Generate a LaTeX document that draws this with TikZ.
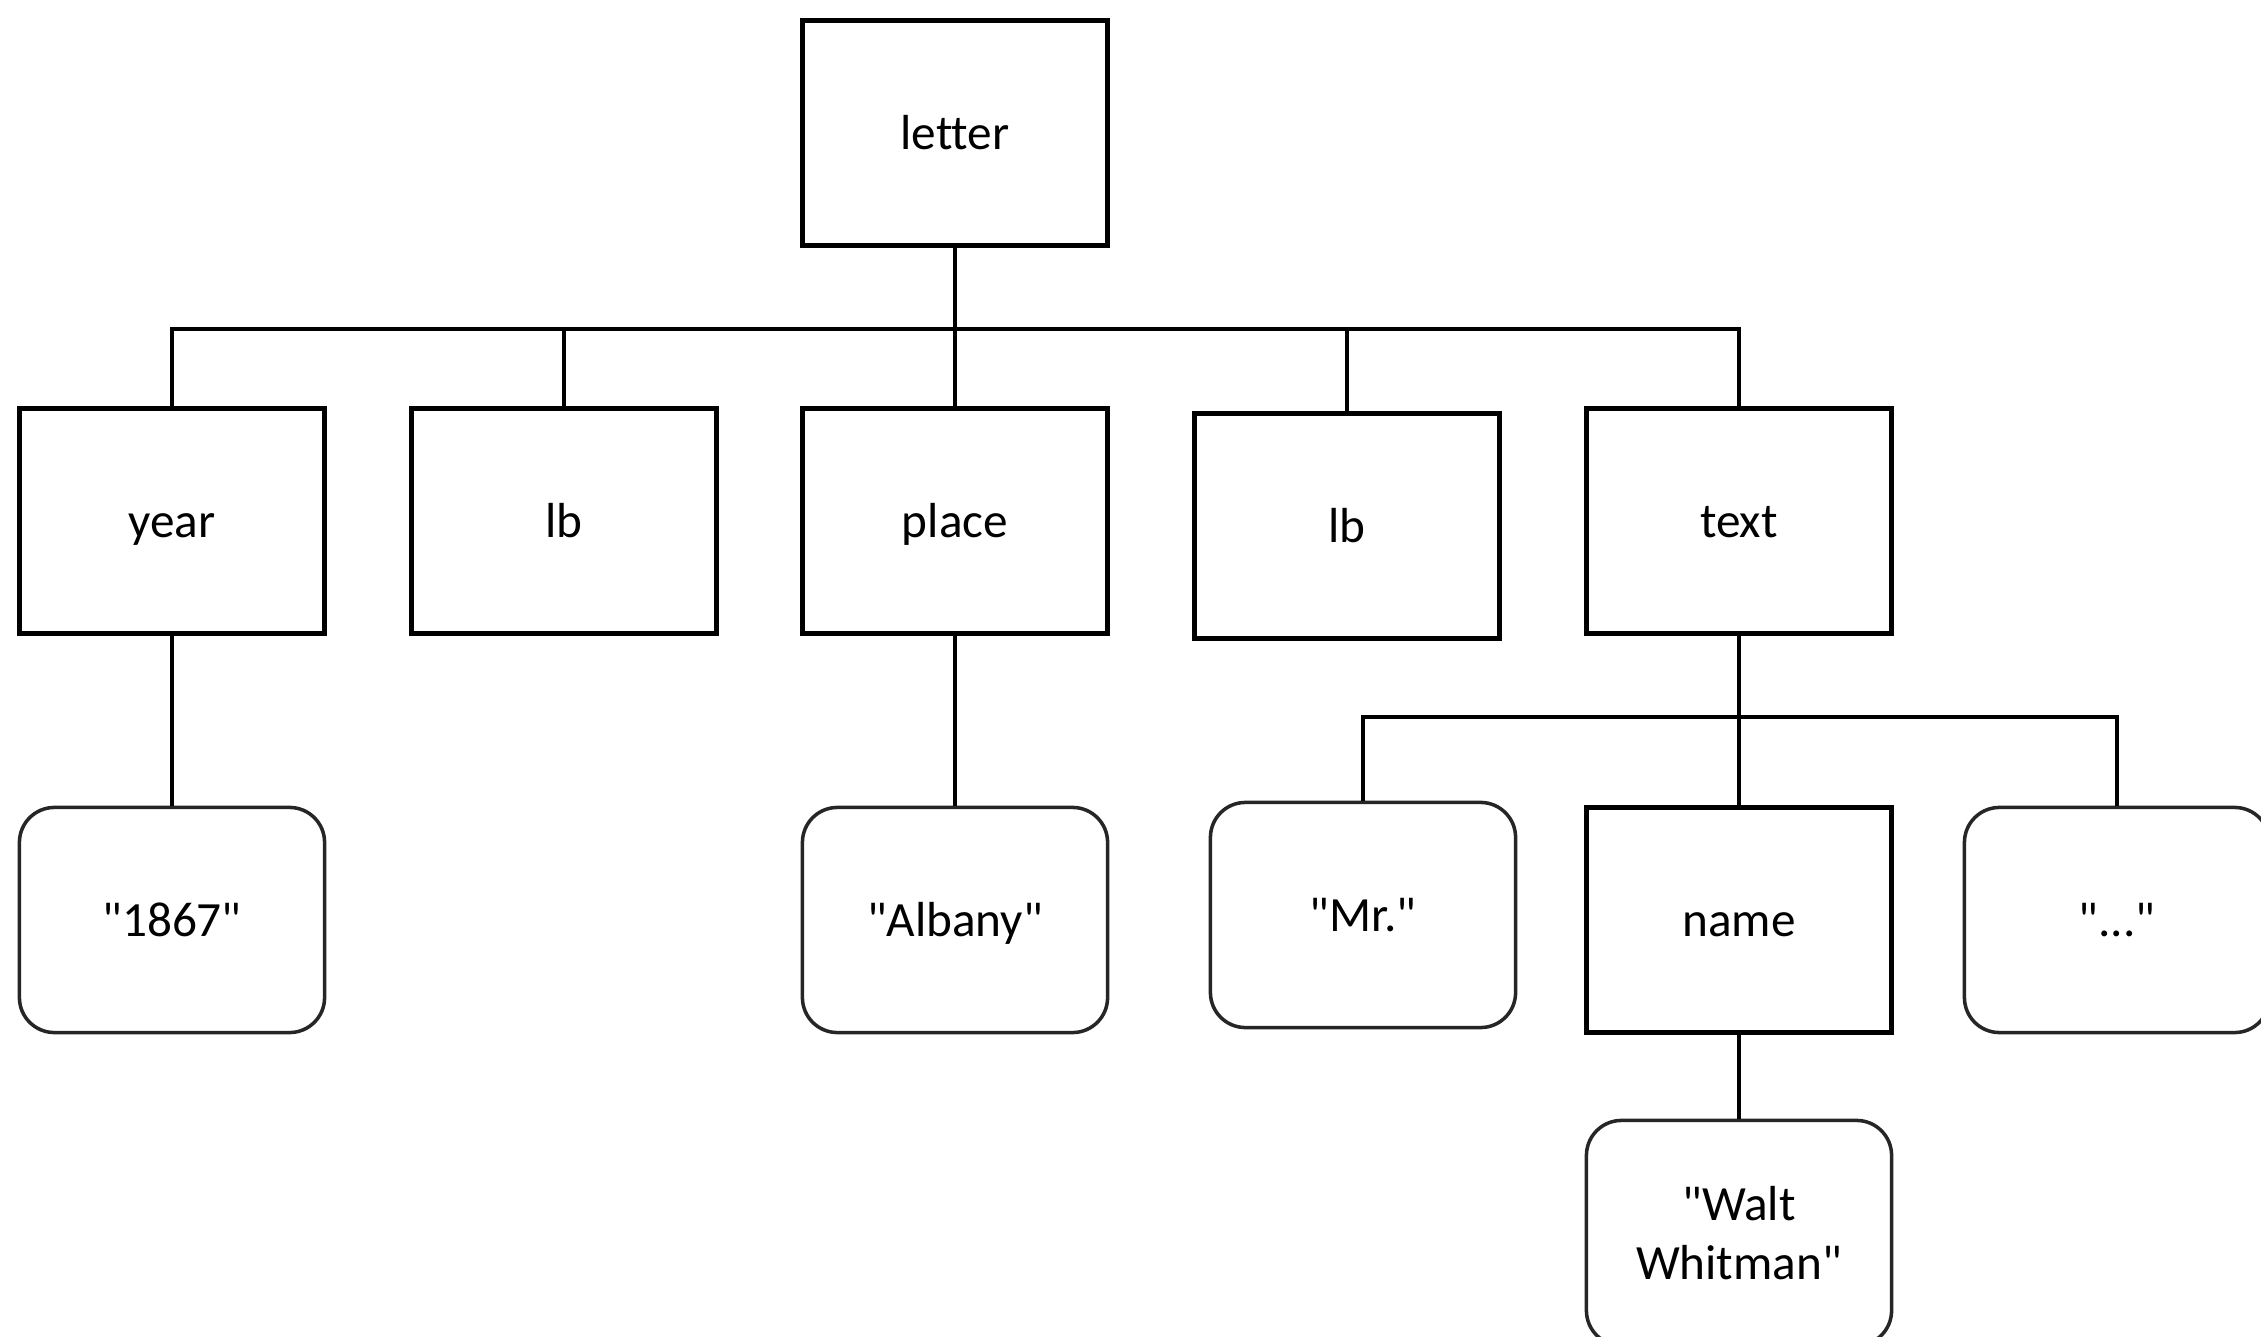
\documentclass[tikz,border=0pt]{standalone}
\usepackage{fontspec}
\setmainfont{Carlito}[Ligatures={TeXOff,CommonOff}]
\newcommand{\dq}{\char"0022\relax}
\begin{document}
\begin{tikzpicture}[x=0.01cm,y=-0.01cm,
  boxfont/.style={font=\fontsize{14}{17}\selectfont, align=center},
  oneline/.style={text height=1.35em, text depth=0.4em},
  elem/.style={draw=black, line width=1.6pt, minimum width=3.05cm, minimum height=2.25cm, inner sep=0pt, boxfont},
  val/.style={draw=black!85, line width=1.0pt, rounded corners=0.35cm, minimum width=3.05cm, minimum height=2.25cm, inner sep=0pt, boxfont},
  conn/.style={draw=black, line width=1.0pt}]
\clip (0,0) rectangle (2261,1337);
\fill[white] (0,0) rectangle (2261,1337);
% level 0
\node[elem,oneline] (letter) at (955,133) {letter};
% level 1
\node[elem,oneline] (year)  at (172,521) {year};
\node[elem,oneline] (lbA)   at (564,521) {lb};
\node[elem,oneline] (place) at (955,521) {place};
\node[elem,oneline] (lbB)   at (1347,526) {lb};
\node[elem,oneline] (text)  at (1739,521) {text};
% level 2
\node[val,oneline]  (y1867)  at (172,920) {\dq1867\dq};
\node[val,oneline]  (albany) at (955,920) {\dq Albany\dq};
\node[val,oneline]  (mr)     at (1363,915) {\dq Mr.\dq};
\node[elem,oneline] (name)   at (1739,920) {name};
\node[val,oneline]  (dots)   at (2117,920) {\dq...\dq};
% level 3
\node[val]  (walt)   at (1739,1233) {\dq Walt\\Whitman\dq};
% junctions
\coordinate (j1) at (955,329);
\coordinate (j2) at (1739,717);
% connectors
\draw[conn] (letter.south) -- (j1);
\draw[conn] (year.north) |- (j1);
\draw[conn] (lbA.north) |- (j1);
\draw[conn] (j1) -- (place.north);
\draw[conn] (lbB.north) |- (j1);
\draw[conn] (text.north) |- (j1);
\draw[conn] (year.south) -- (y1867.north);
\draw[conn] (place.south) -- (albany.north);
\draw[conn] (text.south) -- (j2);
\draw[conn] (j2) -- (name.north);
\draw[conn] (mr.north) |- (j2);
\draw[conn] (dots.north) |- (j2);
\draw[conn] (name.south) -- (walt.north);
\end{tikzpicture}
\end{document}
